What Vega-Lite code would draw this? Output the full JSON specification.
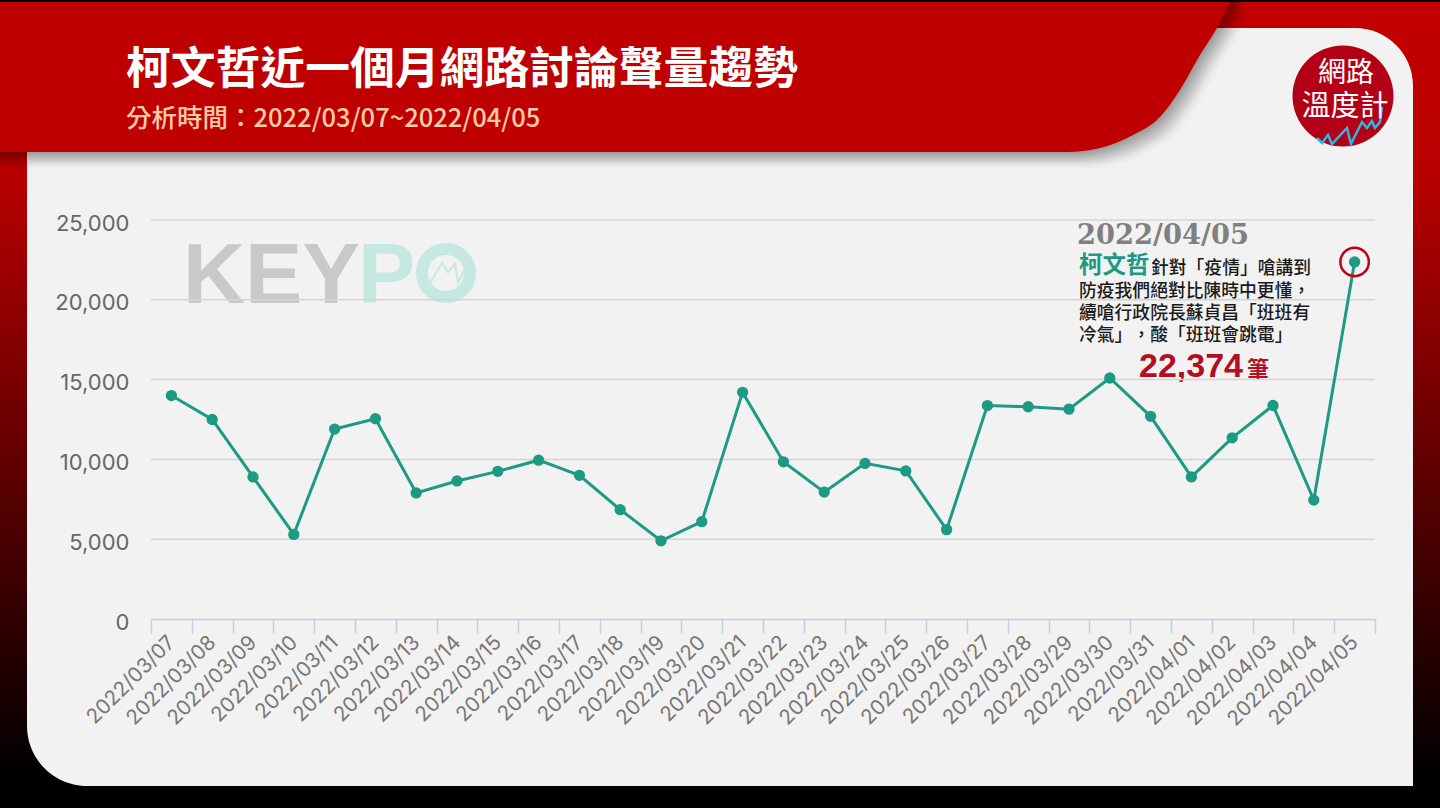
{"$schema":"https://vega.github.io/schema/vega-lite/v6.json","width":1224,"height":399,"autosize":{"type":"none"},"padding":{"left":151,"top":220,"right":65,"bottom":189},"background":"#000000",
"title":{"text":"柯文哲近一個月網路討論聲量趨勢","subtitle":"分析時間：2022/03/07~2022/04/05","anchor":"start","frame":"group","dx":-25,"offset":-175,"zindex":1,"font":"Noto Sans CJK TC","fontSize":44.8,"fontWeight":"bold","color":"#FFFFFF","subtitleFont":"Noto Sans CJK TC","subtitleFontSize":25.5,"subtitleFontWeight":500,"subtitleColor":"#FFCBA8","subtitlePadding":-6,"baseline":"bottom"},
"datasets":{
"header":[{"x":-30,"y":152,"y2":2},{"x":1067,"y":152,"y2":2},{"x":1100,"y":148,"y2":2},{"x":1133,"y":135,"y2":2},{"x":1160,"y":117,"y2":2},{"x":1180,"y":90,"y2":2},{"x":1200,"y":55,"y2":2},{"x":1217,"y":28,"y2":2},{"x":1230,"y":3,"y2":2}],
"daily":[{"date":"2022/03/07","count":14000},{"date":"2022/03/08","count":12500},{"date":"2022/03/09","count":8900},{"date":"2022/03/10","count":5300},{"date":"2022/03/11","count":11900},{"date":"2022/03/12","count":12550},{"date":"2022/03/13","count":7900},{"date":"2022/03/14","count":8650},{"date":"2022/03/15","count":9250},{"date":"2022/03/16","count":9950},{"date":"2022/03/17","count":9000},{"date":"2022/03/18","count":6850},{"date":"2022/03/19","count":4900},{"date":"2022/03/20","count":6100},{"date":"2022/03/21","count":14200},{"date":"2022/03/22","count":9850},{"date":"2022/03/23","count":7950},{"date":"2022/03/24","count":9750},{"date":"2022/03/25","count":9280},{"date":"2022/03/26","count":5600},{"date":"2022/03/27","count":13370},{"date":"2022/03/28","count":13300},{"date":"2022/03/29","count":13150},{"date":"2022/03/30","count":15100},{"date":"2022/03/31","count":12700},{"date":"2022/04/01","count":8900},{"date":"2022/04/02","count":11350},{"date":"2022/04/03","count":13380},{"date":"2022/04/04","count":7450},{"date":"2022/04/05","count":22374}]
},
"resolve":{"scale":{"x":"independent","y":"independent"},"axis":{"x":"independent","y":"independent"}},
"layer":[
{"encoding":{"x":{"field":"x","type":"quantitative","scale":{"domain":[0,1440],"range":[-151,1289],"nice":false,"zero":false},"axis":null},"y":{"field":"y","type":"quantitative","scale":{"domain":[0,808],"range":[-220,588],"nice":false,"zero":false},"axis":null}},
"layer":[
{"data":{"values":[{"x":0,"x2":1440,"y":2,"y2":808}]},"mark":{"type":"rect","fill":{"gradient":"linear","x1":0,"y1":0,"x2":0,"y2":1,"stops":[{"offset":0,"color":"#C40000"},{"offset":0.22,"color":"#B80000"},{"offset":0.96,"color":"#000000"}]}},"encoding":{"x2":{"field":"x2"},"y2":{"field":"y2"}}},
{"data":{"values":[{"x":27,"x2":1413,"y":28,"y2":786}]},"mark":{"type":"rect","fill":"#F2F2F2","cornerRadiusTopRight":58,"cornerRadiusBottomLeft":60},"encoding":{"x2":{"field":"x2"},"y2":{"field":"y2"}}},
{"data":{"name":"header"},"mark":{"type":"area","interpolate":"monotone","fill":"#000000","opacity":0.045,"xOffset":1.5,"yOffset":1.5},"encoding":{"y2":{"field":"y2"}}},
{"data":{"name":"header"},"mark":{"type":"area","interpolate":"monotone","fill":"#000000","opacity":0.045,"xOffset":3,"yOffset":3},"encoding":{"y2":{"field":"y2"}}},
{"data":{"name":"header"},"mark":{"type":"area","interpolate":"monotone","fill":"#000000","opacity":0.045,"xOffset":4.5,"yOffset":4.5},"encoding":{"y2":{"field":"y2"}}},
{"data":{"name":"header"},"mark":{"type":"area","interpolate":"monotone","fill":"#000000","opacity":0.045,"xOffset":6,"yOffset":6},"encoding":{"y2":{"field":"y2"}}},
{"data":{"name":"header"},"mark":{"type":"area","interpolate":"monotone","fill":"#000000","opacity":0.045,"xOffset":7.5,"yOffset":7.5},"encoding":{"y2":{"field":"y2"}}},
{"data":{"name":"header"},"mark":{"type":"area","interpolate":"monotone","fill":"#000000","opacity":0.04,"xOffset":9,"yOffset":9},"encoding":{"y2":{"field":"y2"}}},
{"data":{"name":"header"},"mark":{"type":"area","interpolate":"monotone","fill":"#000000","opacity":0.035,"xOffset":10.5,"yOffset":10.5},"encoding":{"y2":{"field":"y2"}}},
{"data":{"name":"header"},"mark":{"type":"area","interpolate":"monotone","fill":"#000000","opacity":0.03,"xOffset":12,"yOffset":12},"encoding":{"y2":{"field":"y2"}}},
{"data":{"name":"header"},"mark":{"type":"area","interpolate":"monotone","fill":"#000000","opacity":0.025,"xOffset":13.5,"yOffset":13.5},"encoding":{"y2":{"field":"y2"}}},
{"data":{"name":"header"},"mark":{"type":"area","interpolate":"monotone","fill":"#000000","opacity":0.02,"xOffset":15,"yOffset":15},"encoding":{"y2":{"field":"y2"}}},
{"data":{"name":"header"},"mark":{"type":"area","interpolate":"monotone","fill":"#000000","opacity":0.015,"xOffset":17,"yOffset":17},"encoding":{"y2":{"field":"y2"}}},
{"data":{"name":"header"},"mark":{"type":"area","interpolate":"monotone","fill":"#BE0000"},"encoding":{"y2":{"field":"y2"}}},
{"data":{"values":[{"x":183,"y":303,"t":"KEY"}]},"mark":{"type":"text","align":"left","baseline":"alphabetic","font":"Liberation Sans","fontWeight":"bold","fontSize":86,"fill":"#C9C9C9"},"encoding":{"text":{"field":"t"}}},
{"data":{"values":[{"x":358,"y":303,"t":"P"}]},"mark":{"type":"text","align":"left","baseline":"alphabetic","font":"Liberation Sans","fontWeight":"bold","fontSize":86,"fill":"#C5E8E0"},"encoding":{"text":{"field":"t"}}},
{"data":{"values":[{"x":446,"y":273}]},"mark":{"type":"point","size":2304,"filled":false,"stroke":"#C5E8E0","strokeWidth":12,"opacity":1}},
{"data":{"values":[{"x":430,"y":283},{"x":442,"y":263},{"x":448,"y":272},{"x":455,"y":264},{"x":458,"y":283},{"x":467,"y":265}]},"mark":{"type":"line","stroke":"#C5E8E0","strokeWidth":2}},
{"data":{"values":[{"x":1343,"y":96}]},"mark":{"type":"point","filled":true,"size":10200,"fill":"#B40016","opacity":1}},
{"data":{"values":[{"x":1317,"y":138},{"x":1322,"y":143},{"x":1328,"y":135},{"x":1332,"y":144},{"x":1347,"y":128},{"x":1351,"y":144},{"x":1362,"y":122},{"x":1367,"y":128},{"x":1372,"y":121},{"x":1375,"y":128},{"x":1380,"y":122},{"x":1382,"y":107}]},"mark":{"type":"line","stroke":"#2EB5E5","strokeWidth":2.5}},
{"data":{"values":[{"x":1346,"y":74,"t":"網路"}]},"mark":{"type":"text","font":"Noto Sans CJK TC","fontSize":28,"fill":"#FFFFFF","align":"center","baseline":"middle"},"encoding":{"text":{"field":"t"}}},
{"data":{"values":[{"x":1345,"y":107,"t":"溫度計"}]},"mark":{"type":"text","font":"Noto Sans CJK TC","fontSize":29,"fill":"#FFFFFF","align":"center","baseline":"middle"},"encoding":{"text":{"field":"t"}}},
{"data":{"values":[{"x":1077,"y":244,"t":"2022/04/05"}]},"mark":{"type":"text","font":"DejaVu Serif","fontWeight":"bold","fontSize":27.3,"fill":"#808080","align":"left","baseline":"alphabetic"},"encoding":{"text":{"field":"t"}}},
{"data":{"values":[{"x":1079,"y":273,"t":"柯文哲"}]},"mark":{"type":"text","font":"Noto Sans CJK TC","fontWeight":"bold","fontSize":23.5,"fill":"#1D9A82","align":"left","baseline":"alphabetic"},"encoding":{"text":{"field":"t"}}},
{"data":{"values":[{"x":1151,"y":274,"t":"針對「疫情」嗆講到"},{"x":1079,"y":297,"t":"防疫我們絕對比陳時中更懂，"},{"x":1079,"y":319,"t":"續嗆行政院長蘇貞昌「班班有"},{"x":1079,"y":341,"t":"冷氣」"},{"x":1132.4,"y":341,"t":"，酸「班班會跳電」"}]},"mark":{"type":"text","font":"Noto Sans CJK TC","fontWeight":500,"fontSize":17.8,"fill":"#1A1A1A","align":"left","baseline":"alphabetic"},"encoding":{"text":{"field":"t"}}},
{"data":{"values":[{"x":1139,"y":377,"t":"22,374"}]},"mark":{"type":"text","font":"Liberation Sans","fontWeight":"bold","fontSize":34,"fill":"#B50D22","align":"left","baseline":"alphabetic"},"encoding":{"text":{"field":"t"}}},
{"data":{"values":[{"x":1247,"y":377,"t":"筆"}]},"mark":{"type":"text","font":"Noto Sans CJK TC","fontWeight":"bold","fontSize":22,"fill":"#B50D22","align":"left","baseline":"alphabetic"},"encoding":{"text":{"field":"t"}}}
]},
{"encoding":{"y":{"field":"count","type":"quantitative","title":null,"scale":{"domain":[0,25000],"nice":false},"axis":{"zindex":1,"values":[0,5000,10000,15000,20000,25000],"format":",d","grid":false,"domain":false,"ticks":false,"labelPadding":22,"labelFont":"Inter","labelFontSize":22,"labelColor":"#666666","labelOffset":3}}},
"layer":[
{"data":{"values":[{"count":5000},{"count":10000},{"count":15000},{"count":20000},{"count":25000}]},"mark":{"type":"rule","stroke":"#D4D4D4","strokeWidth":1.5}},
{"data":{"name":"daily"},"encoding":{"x":{"field":"date","type":"ordinal","title":null,"scale":{"type":"band","paddingInner":0,"paddingOuter":0},"axis":{"zindex":1,"tickBand":"extent","labelAngle":-45,"labelAlign":"right","labelBaseline":"middle","labelOverlap":false,"labelFont":"Inter","labelFontSize":20.5,"labelColor":"#777777","labelPadding":6,"tickSize":14,"tickColor":"#C0D0E0","tickWidth":1.5,"domainColor":"#C0D0E0","domainWidth":1.5,"grid":false}}},
"layer":[
{"mark":{"type":"line","stroke":"#1D9A82","strokeWidth":3}},
{"mark":{"type":"point","filled":true,"size":128,"fill":"#1D9A82","opacity":1}},
{"transform":[{"filter":"datum.date==='2022/04/05'"}],"mark":{"type":"point","filled":false,"size":810,"stroke":"#C00014","strokeWidth":2.5,"opacity":1}}
]}
]}
]}
